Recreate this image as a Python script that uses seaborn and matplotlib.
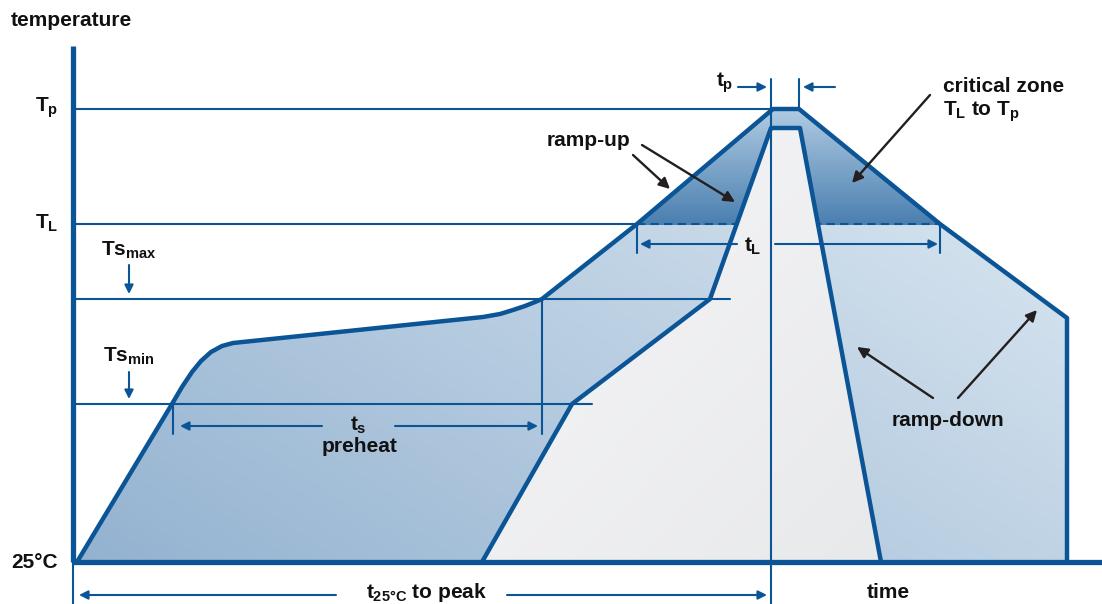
import numpy as np
import matplotlib
matplotlib.use("Agg")
import matplotlib.pyplot as plt
from matplotlib.patches import Polygon
import seaborn as sns

# profile outlines (time px, temperature px; the picture is drawn in image space)
outer_t = [77, 172, 182, 192, 201, 211, 222, 233, 483, 500, 513, 525, 535, 542,
           637, 773, 799, 940, 1067, 1067]
outer_T = [562, 404, 387, 372, 361, 352, 346, 343, 317, 314, 310, 306, 302, 299,
           224, 109, 109, 224, 318, 562]
inner_t = [482, 572, 710, 771, 800, 881]
inner_T = [562, 404, 299, 128, 128, 562]

# temperature levels
T_base = 562
T_p = 109
T_L = 224
Ts_max = 299
Ts_min = 404
level_names = ["$T_p$", "$T_L$"]

# key times
t_peak = 771
t_peak2 = 799
t_s_start = 173
t_s_end = 542

sns.set_theme(style="white")
plt.rcParams["font.family"] = ["Liberation Sans", "DejaVu Sans"]
plt.rcParams["mathtext.fontset"] = "custom"
plt.rcParams["mathtext.rm"] = "Liberation Sans:bold"
plt.rcParams["mathtext.it"] = "Liberation Sans:bold"
plt.rcParams["mathtext.bf"] = "Liberation Sans:bold"

blue = "#0b5597"
dark = "#231f20"
W, H = 1102, 604

fig = plt.figure(figsize=(11.02, 6.04), dpi=100)
ax = fig.add_axes([0, 0, 1, 1])

# gradients
yy, xx = np.mgrid[0:H, 0:W]
def grad(c0, c1, t):
    c0 = np.array(matplotlib.colors.to_rgb(c0))
    c1 = np.array(matplotlib.colors.to_rgb(c1))
    t = np.clip(t, 0, 1)[..., None]
    return c0 * (1 - t) + c1 * t

outer_xy = np.column_stack([outer_t, outer_T])
inner_xy = np.column_stack([inner_t, inner_T])

tb = 0.65 * (xx - 77) / 990 + 0.45 * (562 - yy) / 450
im = ax.imshow(grad("#93b2d0", "#d8e5f0", tb), extent=(0, W, H, 0), aspect="auto", zorder=1)
im.set_clip_path(Polygon(outer_xy, closed=True, transform=ax.transData))

tc = (T_L - yy) / (T_L - T_p)
crit = grad("#4a7fb0", "#b0cbe2", tc)
crit_a = np.dstack([crit, (yy <= T_L).astype(float)])
im2 = ax.imshow(crit_a, extent=(0, W, H, 0), aspect="auto", zorder=2)
im2.set_clip_path(Polygon(outer_xy, closed=True, transform=ax.transData))

# dashed T_L inside the critical zone
ax.plot([637, 940], [T_L, T_L], color=blue, lw=1.5, ls=(0, (4, 2.5)), zorder=3)

tg = 0.5 * (xx - 480) / 400 + 0.5 * (yy - 130) / 430
im3 = ax.imshow(grad("#f6f6f7", "#e8e9eb", tg), extent=(0, W, H, 0), aspect="auto", zorder=4)
im3.set_clip_path(Polygon(inner_xy, closed=True, transform=ax.transData))

# thin guide lines
thin = dict(color=blue, lw=1.5, zorder=5)
ax.plot([73, t_peak], [T_p, T_p], **thin)
ax.plot([73, 637], [T_L, T_L], **thin)
ax.plot([73, 730], [Ts_max, Ts_max], **thin)
ax.plot([73, 592], [Ts_min, Ts_min], **thin)
ax.plot([t_peak, t_peak], [79, 604], **thin)
ax.plot([t_peak2, t_peak2], [79, T_p], **thin)
ax.plot([t_s_end, t_s_end], [Ts_max, 434], **thin)
ax.plot([t_s_start, t_s_start], [Ts_min, 434], **thin)
ax.plot([637, 637], [T_L, 253], **thin)
ax.plot([940, 940], [T_L, 253], **thin)
ax.plot([73, 73], [T_base, 604], **thin)

# profiles
sns.lineplot(x=outer_t, y=outer_T, sort=False, estimator=None, color=blue, lw=3.2, ax=ax, zorder=6)
sns.lineplot(x=inner_t, y=inner_T, sort=False, estimator=None, color=blue, lw=3.2, ax=ax, zorder=6)
# axes
ax.plot([73, 73], [46, T_base], color=blue, lw=3.8, zorder=7, solid_capstyle="butt")
ax.plot([73, 1102], [T_base, T_base], color=blue, lw=3.8, zorder=7, solid_capstyle="butt")

def barrow(x0, y0, x1, y1, c=blue, lw=1.5, ms=13):
    ax.annotate("", xy=(x1, y1), xytext=(x0, y0),
                arrowprops=dict(arrowstyle="-|>", color=c, lw=lw, mutation_scale=ms,
                                shrinkA=0, shrinkB=0), zorder=8)

# blue dimension arrows
barrow(322, 426, 180, 426); barrow(395, 426, 538, 426)
barrow(737, 244, 640, 244); barrow(775, 244, 938, 244)
barrow(336, 595, 79, 595); barrow(507, 595, 767, 595)
barrow(738, 87, 767, 87); barrow(835, 87, 803, 87)
barrow(129, 265, 129, 294); barrow(129, 372, 129, 399)

# black pointer arrows
barrow(633, 155, 670, 189, c=dark, lw=1.7, ms=16)
barrow(642, 145, 735, 202, c=dark, lw=1.7, ms=16)
barrow(930, 95, 852, 183, c=dark, lw=1.7, ms=16)
barrow(933, 398, 857, 347, c=dark, lw=1.7, ms=16)
barrow(958, 398, 1037, 310, c=dark, lw=1.7, ms=16)

tx = dict(fontsize=15, fontweight="bold", color="#111111", zorder=9)
ax.text(11, 20, "temperature", ha="left", va="center", **tx)
ax.text(47, T_p - 1, level_names[0], ha="center", va="center", **tx)
ax.text(47, T_L - 1, level_names[1], ha="center", va="center", **tx)
ax.text(129, 250, r"Ts$_{max}$", ha="center", va="center", **tx)
ax.text(129, 356, r"Ts$_{min}$", ha="center", va="center", **tx)
ax.text(35, 563, "25°C", ha="center", va="center", **tx)
ax.text(427, 593, r"$t_{25°C}$ to peak", ha="center", va="center", **tx)
ax.text(888, 593, "time", ha="center", va="center", **tx)
ax.text(358, 425, "$t_s$", ha="center", va="center", **tx)
ax.text(360, 447, "preheat", ha="center", va="center", **tx)
ax.text(588, 141, "ramp-up", ha="center", va="center", **tx)
ax.text(943, 86, "critical zone", ha="left", va="center", **tx)
ax.text(943, 112, "$T_L$ to $T_p$", ha="left", va="center", **tx)
ax.text(725, 83, "$t_p$", ha="center", va="center", **tx)
ax.text(753, 246, "$t_L$", ha="center", va="center", **tx)
ax.text(948, 420, "ramp-down", ha="center", va="center", **tx)

ax.set_xlim(0, W)
ax.set_ylim(H, 0)
ax.set_axis_off()
fig.savefig("out.png", dpi=100)
